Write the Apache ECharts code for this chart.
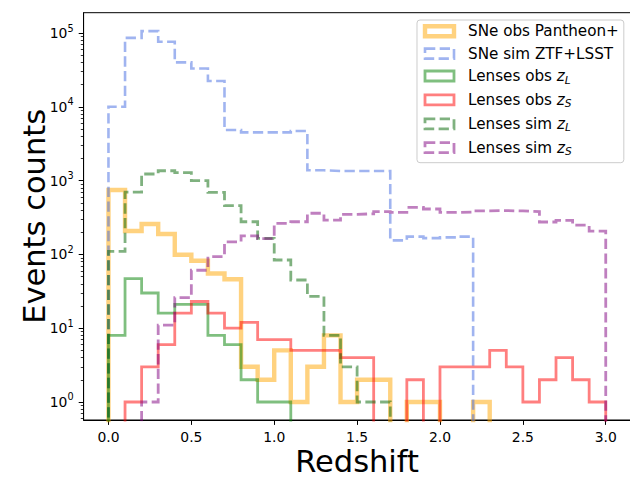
<!DOCTYPE html>
<html>
<head>
<meta charset="utf-8">
<script src="https://cdn.jsdelivr.net/npm/echarts@6/dist/echarts.min.js"></script>
<style>
  html, body { margin: 0; padding: 0; background: #ffffff; }
  #chart { width: 630px; height: 477px; }
</style>
</head>
<body>
<div id="chart"></div>
<script>
// Redshift histograms: all bins are 0.1 wide and start at z = 0
const binStart = 0.0;
const binWidth = 0.1;

// Counts per bin (bin i spans [binStart + i*binWidth, binStart + (i+1)*binWidth])
const snObsPantheon = [746, 208, 258, 189, 99, 82, 55, 46, 3, 2, 5, 1, 3, 8, 1, 2, 2, 0, 1, 1, 0, 0, 1];
const snSimZtfLsst = [10000, 86000, 106000, 76000, 40000, 33000, 22400, 4850, 4500, 4500, 4500, 4700,
                      1380, 1350, 1350, 1350, 1350, 155, 174, 166, 170, 174];
const lensObsZL = [8, 47, 30, 16, 21, 21, 8, 6, 2, 1, 1];
const lensObsZS = [0, 1, 3, 6, 16, 23, 16, 10, 12, 7, 7, 5, 5, 5, 4, 4, 0, 0, 2, 0,
                   3, 3, 3, 5, 3, 1, 2, 4, 2, 1];
const lensSimZL = [110, 700, 1228, 1361, 1280, 997, 694, 457, 277, 165, 84, 45, 27, 8, 3, 1, 1];
const lensSimZS = [0, 0, 1, 11, 26, 61, 93, 148, 178, 164, 264, 277, 361, 292, 349, 355, 379, 370, 435, 412,
                   370, 375, 390, 392, 388, 380, 275, 290, 250, 207];

// Axis ticks
const xTicks = [0, 0.5, 1.0, 1.5, 2.0, 2.5, 3.0];
const yTicks = [1, 10, 100, 1000, 10000, 100000];

const FONT = 'DejaVu Sans';
// Empty bins sit far below the log axis floor so the outline drops out of the plot
const EMPTY = 1e-3;

// Minor log ticks (2..9 x 10^k) inside the visible range
const yMin = 0.57, yMax = 1.885e5;
const yMinorTicks = [];
for (let k = -1; k <= 5; k++) {
  for (let m = 2; m <= 9; m++) {
    const v = m * Math.pow(10, k);
    if (v >= yMin && v <= yMax) yMinorTicks.push(v);
  }
}

// Outline of a step histogram: rise at the first edge, fall at the last one
function stepOutline(counts) {
  const pts = [[binStart, EMPTY]];
  counts.forEach(function (c, i) {
    pts.push([binStart + i * binWidth, c > 0 ? c : EMPTY]);
  });
  const end = binStart + counts.length * binWidth;
  const last = counts[counts.length - 1];
  pts.push([end, last > 0 ? last : EMPTY]);
  pts.push([end, EMPTY]);
  return pts;
}

const DASH = [10.3, 4.4];
const histSeries = [
  { name: 'SNe obs Pantheon+', counts: snObsPantheon, color: 'rgba(255,165,0,0.5)', width: 4.4, dash: 'solid' },
  { name: 'SNe sim ZTF+LSST', counts: snSimZtfLsst, color: 'rgba(65,105,225,0.5)', width: 2.6, dash: DASH },
  { name: 'Lenses obs z_L', counts: lensObsZL, color: 'rgba(0,128,0,0.5)', width: 2.8, dash: 'solid' },
  { name: 'Lenses obs z_S', counts: lensObsZS, color: 'rgba(255,0,0,0.5)', width: 2.8, dash: 'solid' },
  { name: 'Lenses sim z_L', counts: lensSimZL, color: 'rgba(0,100,0,0.5)', width: 2.8, dash: DASH },
  { name: 'Lenses sim z_S', counts: lensSimZS, color: 'rgba(128,0,128,0.5)', width: 2.8, dash: DASH }
];

const legendText = {
  'SNe obs Pantheon+': '{g| }{t|SNe obs Pantheon+}',
  'SNe sim ZTF+LSST': '{g| }{t|SNe sim ZTF+LSST}',
  'Lenses obs z_L': '{g| }{t|Lenses obs }{it|z}{sub|L}',
  'Lenses obs z_S': '{g| }{t|Lenses obs }{it|z}{sub|S}',
  'Lenses sim z_L': '{g| }{t|Lenses sim }{it|z}{sub|L}',
  'Lenses sim z_S': '{g| }{t|Lenses sim }{it|z}{sub|S}'
};

const chart = echarts.init(document.getElementById('chart'), null, { renderer: 'svg' });

chart.setOption({
  animation: false,
  backgroundColor: '#ffffff',
  grid: {
    left: 83.6, top: 12.7, width: 547, height: 407.3,
    containLabel: false, outerBoundsMode: 'none',
    show: true, borderColor: '#000000', borderWidth: 1, backgroundColor: 'transparent'
  },
  xAxis: {
    type: 'value', min: -0.15, max: 3.15,
    name: 'Redshift', nameLocation: 'middle', nameGap: 29.5, nameMoveOverlap: false,
    nameTextStyle: { fontFamily: FONT, fontSize: 30.5, lineHeight: 24, color: '#000000' },
    axisLine: { show: true, onZero: false, lineStyle: { color: '#000000', width: 1 } },
    axisTick: { show: true, length: 4.9, lineStyle: { color: '#000000', width: 1 }, customValues: xTicks },
    axisLabel: {
      customValues: xTicks, margin: 10, fontFamily: FONT, fontSize: 13.9, color: '#000000',
      formatter: function (v) { return v.toFixed(1); }
    },
    splitLine: { show: false }
  },
  yAxis: [
    {
      type: 'log', logBase: 10, min: yMin, max: yMax, position: 'left',
      name: 'Events counts', nameLocation: 'middle', nameGap: 34, nameRotate: 90, nameMoveOverlap: false,
      nameTextStyle: { fontFamily: FONT, fontSize: 30.5, color: '#000000' },
      axisLine: { show: true, onZero: false, lineStyle: { color: '#000000', width: 1 } },
      axisTick: { show: true, length: 4.9, lineStyle: { color: '#000000', width: 1 }, customValues: yTicks },
      axisLabel: {
        customValues: yTicks, margin: 10,
        formatter: function (v) { return '{b|10}{sup|' + Math.round(Math.log10(v)) + '}'; },
        rich: {
          b: { fontFamily: FONT, fontSize: 13.9, color: '#000000', lineHeight: 20 },
          sup: { fontFamily: FONT, fontSize: 9.7, color: '#000000', lineHeight: 10, verticalAlign: 'top' }
        }
      },
      splitLine: { show: false }
    },
    {
      type: 'log', logBase: 10, min: yMin, max: yMax, position: 'left', offset: 0,
      axisLine: { show: false, onZero: false },
      axisTick: { show: true, length: 2.8, lineStyle: { color: '#000000', width: 0.8 }, customValues: yMinorTicks },
      axisLabel: { show: false },
      splitLine: { show: false }
    }
  ],
  legend: {
    left: 417, top: 20, orient: 'vertical',
    backgroundColor: 'rgba(255,255,255,0.8)', borderColor: '#cccccc', borderWidth: 1, borderRadius: 3,
    padding: [3.7, 5, 6, 5.8],
    itemWidth: 29, itemHeight: 10, itemGap: 7.4,
    icon: 'rect',
    formatter: function (name) { return legendText[name]; },
    textStyle: {
      rich: {
        g: { width: 9, fontSize: 15.2, lineHeight: 18 },
        t: { fontFamily: FONT, fontSize: 15.2, color: '#000000', lineHeight: 18 },
        it: { fontFamily: FONT, fontSize: 15.2, fontStyle: 'italic', color: '#000000', lineHeight: 18 },
        sub: { fontFamily: FONT, fontSize: 10.6, fontStyle: 'italic', color: '#000000', lineHeight: 9, verticalAlign: 'bottom' }
      }
    },
    data: histSeries.map(function (s) {
      return {
        name: s.name,
        itemStyle: {
          color: 'rgba(0,0,0,0)', borderColor: s.color, borderWidth: s.width,
          borderType: s.dash
        }
      };
    })
  },
  series: histSeries.map(function (s) {
    return {
      type: 'line', name: s.name, data: stepOutline(s.counts),
      step: 'end', symbol: 'none', showSymbol: false, clip: true,
      xAxisIndex: 0, yAxisIndex: 0,
      lineStyle: { color: s.color, width: s.width, type: s.dash, cap: 'butt', join: 'miter' },
      itemStyle: { color: s.color },
      emphasis: { disabled: true }
    };
  })
});
</script>
</body>
</html>
